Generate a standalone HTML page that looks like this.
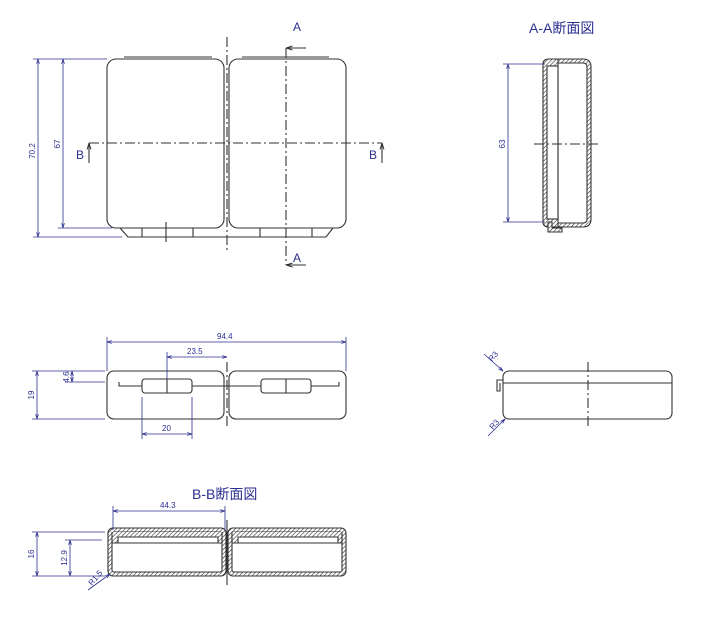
<!DOCTYPE html>
<html><head><meta charset="utf-8"><style>
html,body{margin:0;padding:0;background:#fff}
svg{display:block}
text{font-family:"Liberation Sans","Noto Sans CJK JP",sans-serif}
</style></head><body>
<svg width="708" height="620" viewBox="0 0 708 620" xmlns="http://www.w3.org/2000/svg">
<defs>
<pattern id="h" width="3" height="3" patternUnits="userSpaceOnUse" patternTransform="rotate(45)">
<rect width="3" height="3" fill="#fff"/><line x1="0" y1="0" x2="0" y2="3" stroke="#333" stroke-width="1.2"/>
</pattern>
<marker id="ar" viewBox="0 0 10 10" refX="10" refY="5" markerWidth="6" markerHeight="6" orient="auto-start-reverse"><path d="M0,2 L10,5 L0,8" fill="none" stroke="#2b2f8f" stroke-width="1.5"/></marker>
<marker id="ak" viewBox="0 0 10 10" refX="10" refY="5" markerWidth="6" markerHeight="6" orient="auto-start-reverse"><path d="M0,2 L10,5 L0,8" fill="none" stroke="#333" stroke-width="1.5"/></marker>
</defs>
<g fill="none" stroke="#333" stroke-width="1.1">
<!-- top view -->
<rect x="107" y="59" width="117" height="169" rx="9"/>
<rect x="229" y="59" width="117" height="169" rx="9"/>
<line x1="124" y1="57" x2="212" y2="57"/><line x1="242" y1="57" x2="329" y2="57"/>
<path d="M120,228 L128,237 L326,237 L333,228"/>
<path d="M142,228v9M193,228v9M260,228v9M312,228v9"/>
<line x1="227" y1="37" x2="227" y2="252" stroke-dasharray="10,3,2,3"/>
<line x1="166" y1="222" x2="166" y2="242"/>
<line x1="286" y1="48" x2="286" y2="265" stroke-dasharray="10,3,2,3"/>
<path d="M306,48 L286,48" marker-end="url(#ak)"/><path d="M306,265 L286,265" marker-end="url(#ak)"/>
<line x1="89" y1="143" x2="382" y2="143" stroke-dasharray="10,3,2,3"/>
<path d="M89,163 V143" marker-end="url(#ak)"/><path d="M382,163 V143" marker-end="url(#ak)"/>
<!-- A-A -->
<path d="M549,59 H583 Q591,59 591,67 V219 Q591,227 583,227 H549 Z" fill="url(#h)"/>
<path d="M552,63 H583 Q587,63 587,67 V219 Q587,223 583,223 H552 Z" fill="#fff"/>
<path d="M543,64 Q543,59 549,59 H558 V227 H549 Q543,227 543,222 Z" fill="url(#h)"/>
<rect x="547" y="66" width="11" height="153" fill="#fff"/>
<path d="M548,222 L548,232 L562,232 L562,228 L552,228 L552,222 Z" fill="url(#h)"/>
<line x1="534" y1="144" x2="598" y2="144" stroke-dasharray="10,3,2,3"/>
<!-- side view -->
<rect x="107" y="371" width="117" height="48" rx="7"/>
<rect x="229" y="371" width="117" height="48" rx="7"/>
<path d="M119,382 V386 H339 V382"/>
<rect x="142" y="379" width="50" height="14" rx="3" fill="#fff"/><line x1="167" y1="379" x2="167" y2="393"/>
<rect x="261" y="379" width="50" height="14" rx="3" fill="#fff"/><line x1="286" y1="379" x2="286" y2="393"/>
<line x1="227" y1="362" x2="227" y2="428" stroke-dasharray="10,3,2,3"/>
<!-- right side view -->
<rect x="503" y="371" width="169" height="48" rx="6"/>
<line x1="503" y1="383" x2="672" y2="383"/>
<path d="M503,380 H497 V391 H500 V383"/>
<line x1="588" y1="362" x2="588" y2="428" stroke-dasharray="10,3,2,3"/>
<!-- B-B -->
<g>
<rect x="108" y="528" width="118" height="48" rx="5" fill="url(#h)"/>
<rect x="112" y="532" width="110" height="40" rx="2" fill="#fff"/>
<path d="M112,532 V543 H118 V537 H218 V543 H222 V532" fill="url(#h)"/>
<line x1="112" y1="543" x2="222" y2="543"/>
<rect x="228" y="528" width="118" height="48" rx="5" fill="url(#h)"/>
<rect x="232" y="532" width="110" height="40" rx="2" fill="#fff"/>
<path d="M232,532 V543 H238 V537 H338 V543 H342 V532" fill="url(#h)"/>
<line x1="232" y1="543" x2="342" y2="543"/>
<line x1="227" y1="520" x2="227" y2="585"/>
</g>
</g>
<!-- dimensions -->
<g fill="none" stroke="#2b2f8f" stroke-width="0.8">
<line x1="33" y1="59" x2="107" y2="59"/><line x1="33" y1="237" x2="122" y2="237"/><line x1="58" y1="228" x2="112" y2="228"/>
<line x1="38" y1="59" x2="38" y2="237" marker-start="url(#ar)" marker-end="url(#ar)"/>
<line x1="63" y1="59" x2="63" y2="228" marker-start="url(#ar)" marker-end="url(#ar)"/>
<line x1="503" y1="64" x2="545" y2="64"/><line x1="503" y1="222" x2="545" y2="222"/>
<line x1="508" y1="64" x2="508" y2="222" marker-start="url(#ar)" marker-end="url(#ar)"/>
<line x1="107" y1="337" x2="107" y2="371"/><line x1="346" y1="337" x2="346" y2="371"/>
<line x1="107" y1="342" x2="346" y2="342" marker-start="url(#ar)" marker-end="url(#ar)"/>
<line x1="167" y1="352" x2="167" y2="379"/>
<line x1="167" y1="357" x2="227" y2="357" marker-start="url(#ar)" marker-end="url(#ar)"/>
<line x1="32" y1="371" x2="105" y2="371"/><line x1="32" y1="419" x2="105" y2="419"/><line x1="65" y1="382" x2="105" y2="382"/>
<line x1="37" y1="371" x2="37" y2="419" marker-start="url(#ar)" marker-end="url(#ar)"/>
<line x1="72" y1="371" x2="72" y2="382" marker-start="url(#ar)" marker-end="url(#ar)"/>
<line x1="142" y1="397" x2="142" y2="439"/><line x1="192" y1="397" x2="192" y2="439"/>
<line x1="142" y1="434" x2="192" y2="434" marker-start="url(#ar)" marker-end="url(#ar)"/>
<line x1="484" y1="354" x2="503" y2="371" marker-end="url(#ar)"/>
<line x1="488" y1="436" x2="505" y2="419" marker-end="url(#ar)"/>
<line x1="113" y1="506" x2="113" y2="530"/><line x1="225" y1="506" x2="225" y2="530"/>
<line x1="113" y1="511" x2="225" y2="511" marker-start="url(#ar)" marker-end="url(#ar)"/>
<line x1="32" y1="532" x2="105" y2="532"/><line x1="32" y1="576" x2="105" y2="576"/><line x1="65" y1="540" x2="102" y2="540"/>
<line x1="37" y1="532" x2="37" y2="576" marker-start="url(#ar)" marker-end="url(#ar)"/>
<line x1="70" y1="540" x2="70" y2="576" marker-start="url(#ar)" marker-end="url(#ar)"/>
<line x1="88" y1="590" x2="110" y2="574" marker-end="url(#ar)"/>
</g>
<g fill="#2b2f8f" font-size="12">
<text x="293" y="31">A</text><text x="293" y="262">A</text>
<text x="76" y="159">B</text><text x="369" y="159">B</text>
<text x="529" y="33" font-size="14">A-A断面図</text>
<text x="192" y="499" font-size="14">B-B断面図</text>
</g>
<g fill="#2b2f8f" font-size="8">
<text x="217" y="339">94.4</text>
<text x="187" y="354">23.5</text>
<text x="162" y="431">20</text>
<text x="160" y="508">44.3</text>
<text transform="translate(35,151) rotate(-90)" text-anchor="middle">70.2</text>
<text transform="translate(60,144) rotate(-90)" text-anchor="middle">67</text>
<text transform="translate(505,144) rotate(-90)" text-anchor="middle">63</text>
<text transform="translate(34,395) rotate(-90)" text-anchor="middle">19</text>
<text transform="translate(69,377) rotate(-90)" text-anchor="middle">4.6</text>
<text transform="translate(34,554) rotate(-90)" text-anchor="middle">16</text>
<text transform="translate(67,558) rotate(-90)" text-anchor="middle">12.9</text>
<text transform="translate(92,586) rotate(-50)">R1.5</text>
<text transform="translate(492,362) rotate(-50)">R3</text>
<text transform="translate(493,430) rotate(-50)">R3</text>
</g>
</svg>
</body></html>
